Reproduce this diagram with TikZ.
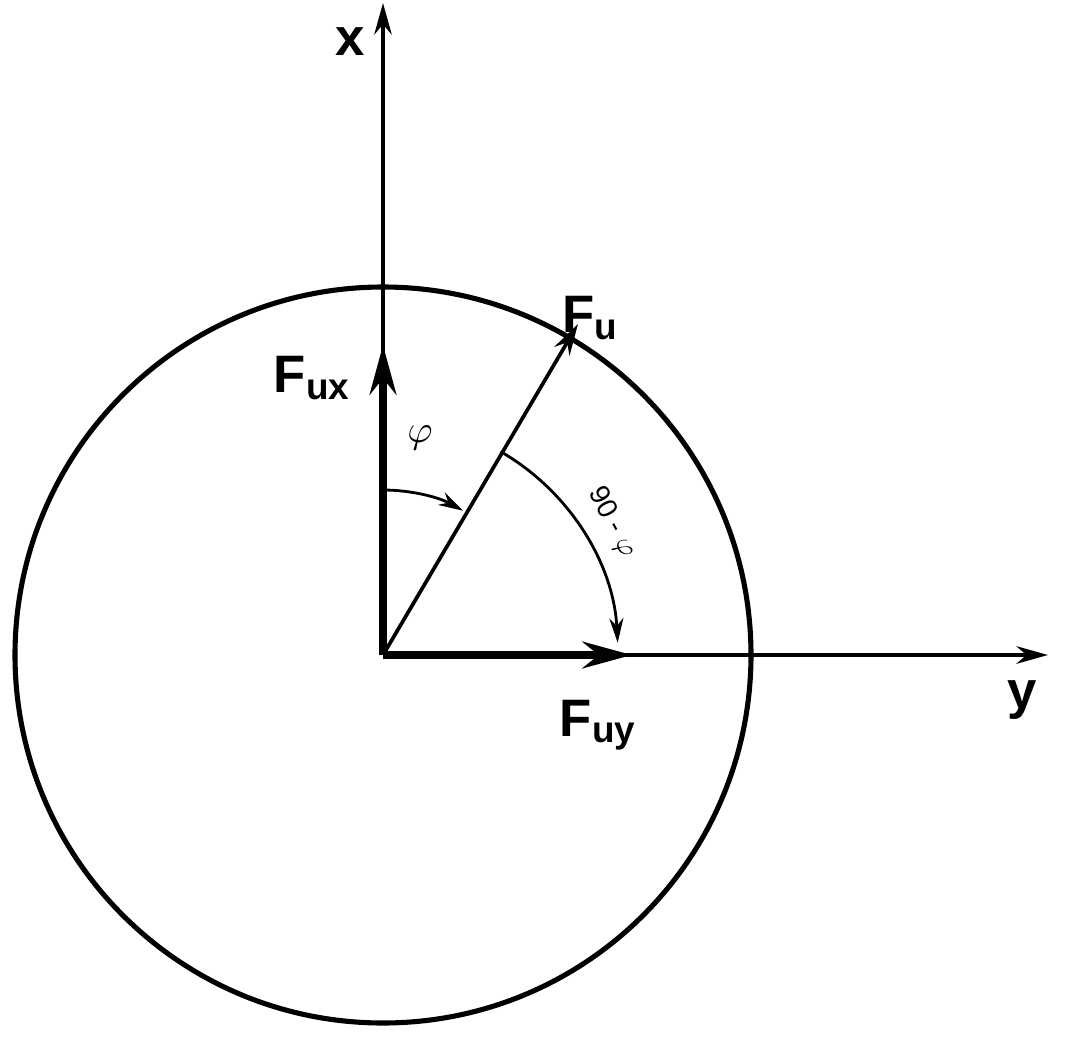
\documentclass[tikz,border=0pt]{standalone}
\usepackage{fontspec}
\setmainfont{Liberation Sans}
\usetikzlibrary{arrows.meta}
\begin{document}
\begin{tikzpicture}[x=0.02cm,y=-0.02cm,
  thin arr/.style={line width=2.1pt,-{Stealth[length=18pt,width=10pt]}},
  thick arr/.style={line width=4.8pt,-{Stealth[length=28pt,width=15pt]}},
  lbl/.style={font=\fontsize{30}{36}\selectfont\bfseries},
  arcarr/.style={line width=1.6pt,-{Stealth[length=14pt,width=8pt]}}]
\useasboundingbox (0,0) rectangle (1069,1042);
\coordinate (O) at (383,655);
\draw[line width=2.9pt] (O) circle (368);
\coordinate (xe) at (383,3);
\coordinate (ye) at (1048,655);
\draw[thin arr] (O) -- (xe);
\draw[thin arr] (O) -- (ye);
\coordinate (fu) at (578,324);
\draw[thin arr] (O) -- (fu);
\coordinate (fux) at (383,345);
\coordinate (fuy) at (632,655);
\draw[thick arr] (O) -- (fux);
\draw[thick arr] (O) -- (fuy);
\draw[arcarr] ([shift={(-90:165)}]O) arc[start angle=-90,end angle=-61,radius=165];
\draw[arcarr] ([shift={(-60:235)}]O) arc[start angle=-60,end angle=-3,radius=235];
\node[lbl] (lx) at (350,42) {x};
\node[lbl] (ly) at (1022,700) {y};
\node[lbl] (lfu) at (590,318) {F\textsubscript{u}};
\node[lbl] (lfux) at (312,378) {F\textsubscript{ux}};
\node[lbl] (lfuy) at (598,725) {F\textsubscript{uy}};
\node[scale=2.2] (phi) at (420,438) {$\varphi$};
\node[scale=1.6,rotate=-62] (ang) at (612,522) {90 - $\varphi$};
\end{tikzpicture}
\end{document}
